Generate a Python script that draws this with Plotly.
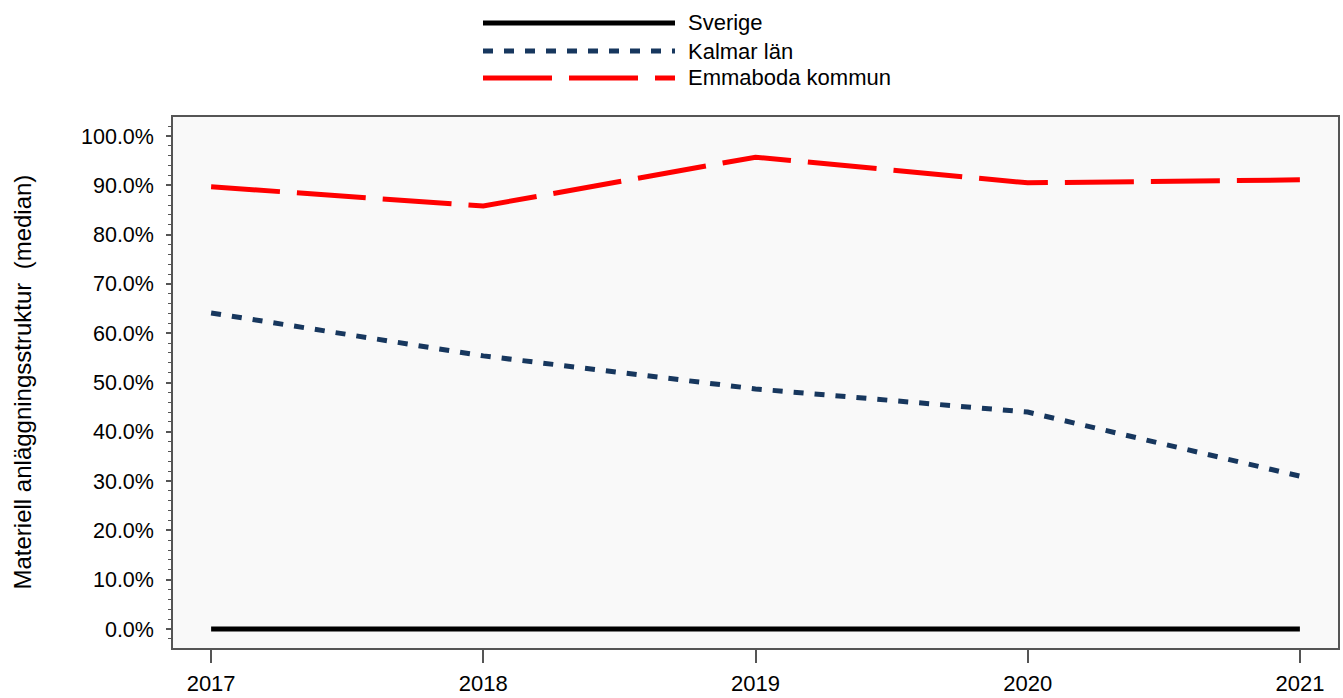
import plotly.graph_objects as go

years = [2017, 2018, 2019, 2020, 2021]
sverige = [0.0, 0.0, 0.0, 0.0, 0.0]
kalmar = [0.641, 0.554, 0.487, 0.440, 0.310]
emmaboda = [0.897, 0.858, 0.957, 0.905, 0.911]

series_names = ["Sverige", "Kalmar län", "Emmaboda kommun"]
series_colors = ["#000000", "#17375e", "#ff0000"]
series_dash = ["solid", "10px,11px", "69px,17px"]
series_width = [5, 5, 5]
series_values = [sverige, kalmar, emmaboda]

y_ticks = [i / 10 for i in range(11)]
y_ticktext = [f"{v*100:.1f}%" for v in y_ticks]

W, H = 1343, 698
ml, mr, mt, mb = 173, 5, 117, 50
pw, ph = W - ml - mr, H - mt - mb

def px_x(x):
    return (x - ml) / pw

def px_y(y):
    return (H - mb - y) / ph

fig = go.Figure()
for name, vals, col, dash, w in zip(series_names, series_values, series_colors, series_dash, series_width):
    fig.add_trace(go.Scatter(x=years, y=vals, mode="lines", name=name,
                             line=dict(color=col, width=w, dash=dash),
                             showlegend=False))

# manual legend
leg_y = [23, 51, 78]
for name, col, dash, w, yy in zip(series_names, series_colors, series_dash, series_width, leg_y):
    fig.add_shape(type="line", xref="paper", yref="paper",
                  x0=px_x(483), x1=px_x(675), y0=px_y(yy), y1=px_y(yy),
                  line=dict(color=col, width=w, dash=dash))
    fig.add_annotation(text=name, xref="paper", yref="paper",
                       x=px_x(686), y=px_y(yy), xanchor="left", yanchor="middle",
                       showarrow=False, font=dict(size=22, color="#000000"))

fig.add_annotation(text="Materiell anläggningsstruktur  (median)", xref="paper", yref="paper",
                   x=px_x(22), y=0.5, textangle=-90, xanchor="center", yanchor="middle",
                   showarrow=False, font=dict(size=24, color="#000000"))

fig.update_layout(
    width=W, height=H,
    margin=dict(l=ml, r=mr, t=mt, b=mb, autoexpand=False),
    paper_bgcolor="#ffffff", plot_bgcolor="#f9f9f9",
    font=dict(family="Liberation Sans, Arial, sans-serif", size=21, color="#000000"),
    showlegend=False,
)
fig.update_xaxes(range=[2016.86, 2021.14], tickvals=years, ticktext=[str(y) for y in years],
                 tickfont=dict(size=22),
                 showgrid=False, zeroline=False, showline=True, mirror=True,
                 linecolor="#555555", linewidth=1.5, ticks="outside", ticklen=13,
                 tickcolor="#555555", tickwidth=1.5, ticklabelstandoff=2)
fig.update_yaxes(range=[-0.0385, 1.0385], tickvals=y_ticks, ticktext=y_ticktext,
                 tickfont=dict(size=21.5),
                 showgrid=False, zeroline=False, showline=True, mirror=True,
                 linecolor="#555555", linewidth=1.5, ticks="outside", ticklen=5,
                 tickcolor="#555555", tickwidth=1.5, ticklabelstandoff=8,
                 minor=dict(dtick=0.02, ticks="outside", ticklen=3, tickcolor="#555555", tickwidth=1))

fig.write_html("out.html", config={"displayModeBar": False},
               post_script="document.body.style.margin='0';document.body.style.overflow='hidden';")
